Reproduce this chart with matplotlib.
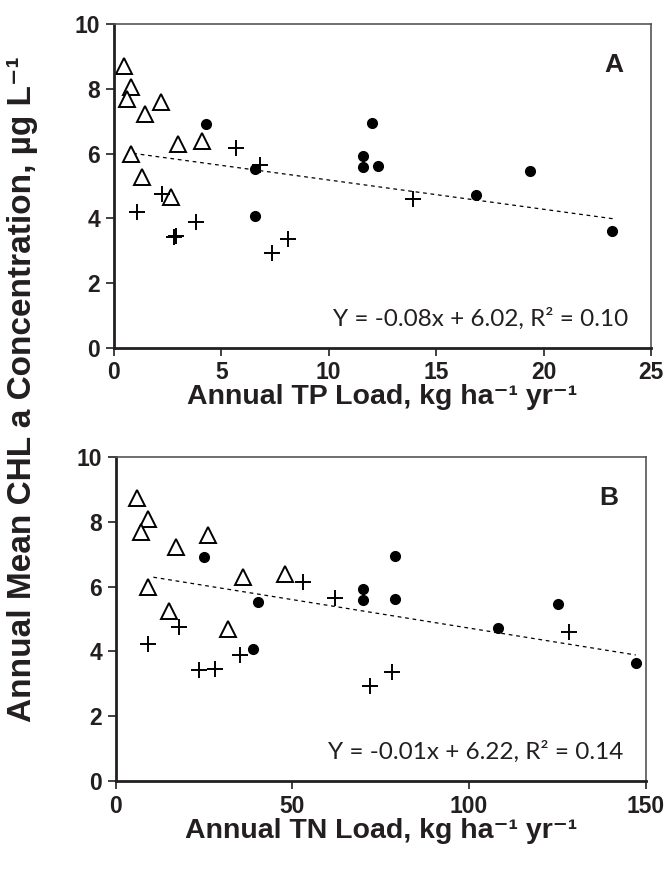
import numpy as np
import matplotlib.pyplot as plt

# Panel A: TP load (kg/ha/yr) vs CHL a
tp_tri = [0.47, 0.79, 0.59, 2.19, 1.47, 2.99, 4.09, 0.78, 1.29, 2.68]
chl_tri = [8.72, 8.07, 7.68, 7.61, 7.23, 6.29, 6.39, 5.98, 5.27, 4.67]
tp_plus = [5.67, 6.82, 2.22, 1.08, 2.80, 2.90, 3.80, 7.38, 8.11, 13.92]
chl_plus = [6.17, 5.64, 4.75, 4.21, 3.43, 3.46, 3.89, 2.94, 3.37, 4.60]
tp_dot = [4.28, 6.57, 6.57, 12.0, 11.6, 11.6, 12.29, 16.87, 19.38, 23.19]
chl_dot = [6.93, 5.53, 4.07, 6.96, 5.92, 5.60, 5.62, 4.72, 5.45, 3.62]

# Panel B: TN load (kg/ha/yr) vs CHL a
tn_tri = [6.0, 9.2, 7.0, 17.0, 26.0, 36.1, 47.9, 9.0, 15.0, 31.8]
tn_plus = [53.1, 62.1, 17.9, 9.2, 23.6, 28.1, 35.2, 72.0, 78.2, 128.2]
tn_dot = [25.0, 40.1, 38.9, 70.1, 70.1, 79.1, 79.1, 108.1, 125.1, 147.2]
chl_tri_b = [8.72, 8.08, 7.69, 7.23, 7.59, 6.31, 6.38, 6.00, 5.26, 4.68]
chl_plus_b = [6.15, 5.64, 4.74, 4.22, 3.43, 3.46, 3.89, 2.93, 3.37, 4.61]
chl_dot_b = [6.92, 5.52, 4.06, 5.92, 5.59, 6.95, 5.62, 4.73, 5.45, 3.63]

# trend lines as drawn (end points)
trend_a_x = [0.9, 23.3]
trend_a_y = [6.01, 3.98]
trend_b_x = [10.6, 147.2]
trend_b_y = [6.29, 3.89]

eq_a = 'Y = -0.08x + 6.02, R² = 0.10'
eq_b = 'Y = -0.01x + 6.22, R² = 0.14'

bold_font = ['Liberation Sans', 'DejaVu Sans']
eq_font = 'Lato'
ink = '#231f20'

fig = plt.figure(figsize=(6.7, 8.74), dpi=100)
ax1 = fig.add_axes([0.170, 0.6024, 0.8016, 0.3696])
ax2 = fig.add_axes([0.173, 0.1064, 0.7907, 0.3707])


def draw(ax, xt, yt, xp, yp, xd, yd, tx, ty, eq, letter, xmax, xticks, xlabel):
    ax.plot(tx, ty, color='black', linestyle=(0, (3, 3)), linewidth=0.9, zorder=1)
    ax.plot(xt, yt, linestyle='none', marker='^', markersize=12,
            markerfacecolor='white', markeredgecolor='black', markeredgewidth=1.4, zorder=2)
    ax.plot(xp, yp, linestyle='none', marker='+', markersize=12,
            color='black', markeredgewidth=1.4, zorder=3)
    ax.plot(xd, yd, linestyle='none', marker='o', markersize=7,
            color='black', zorder=4)
    ax.set_xlim(0, xmax)
    ax.set_ylim(0, 10)
    ax.set_xticks(xticks)
    ax.set_yticks([0, 2, 4, 6, 8, 10])
    for s in ['left', 'bottom']:
        ax.spines[s].set_linewidth(2)
        ax.spines[s].set_color(ink)
    for s in ['top', 'right']:
        ax.spines[s].set_linewidth(1.2)
        ax.spines[s].set_color('#555555')
    ax.tick_params(direction='out', length=6, width=1.2, colors=ink, pad=4)
    for lab in ax.get_xticklabels() + ax.get_yticklabels():
        lab.set_fontfamily(bold_font)
        lab.set_fontweight('heavy')
        lab.set_fontsize(16.5)
    ax.text(0.958, 0.055, eq, transform=ax.transAxes, ha='right', va='bottom',
            fontsize=17.5, family=eq_font, color=ink)
    ax.text(0.93, 0.875, letter, transform=ax.transAxes, ha='center', va='center',
            fontsize=19, family=bold_font, fontweight='bold', color=ink)
    ax.set_xlabel(xlabel, fontsize=20.5, family=bold_font, fontweight='bold',
                  color=ink, labelpad=0)


draw(ax1, tp_tri, chl_tri, tp_plus, chl_plus, tp_dot, chl_dot,
     trend_a_x, trend_a_y, eq_a, 'A', 25, [0, 5, 10, 15, 20, 25],
     'Annual TP Load, kg ha⁻¹ yr⁻¹')
draw(ax2, tn_tri, chl_tri_b, tn_plus, chl_plus_b, tn_dot, chl_dot_b,
     trend_b_x, trend_b_y, eq_b, 'B', 150, [0, 50, 100, 150],
     'Annual TN Load, kg ha⁻¹ yr⁻¹')

fig.text(0.033, 0.555, 'Annual Mean CHL a Concentration, µg L⁻¹',
         rotation=90, ha='center', va='center', fontsize=24, family=bold_font,
         fontweight='bold', color=ink)

plt.savefig('out.png', dpi=100)
